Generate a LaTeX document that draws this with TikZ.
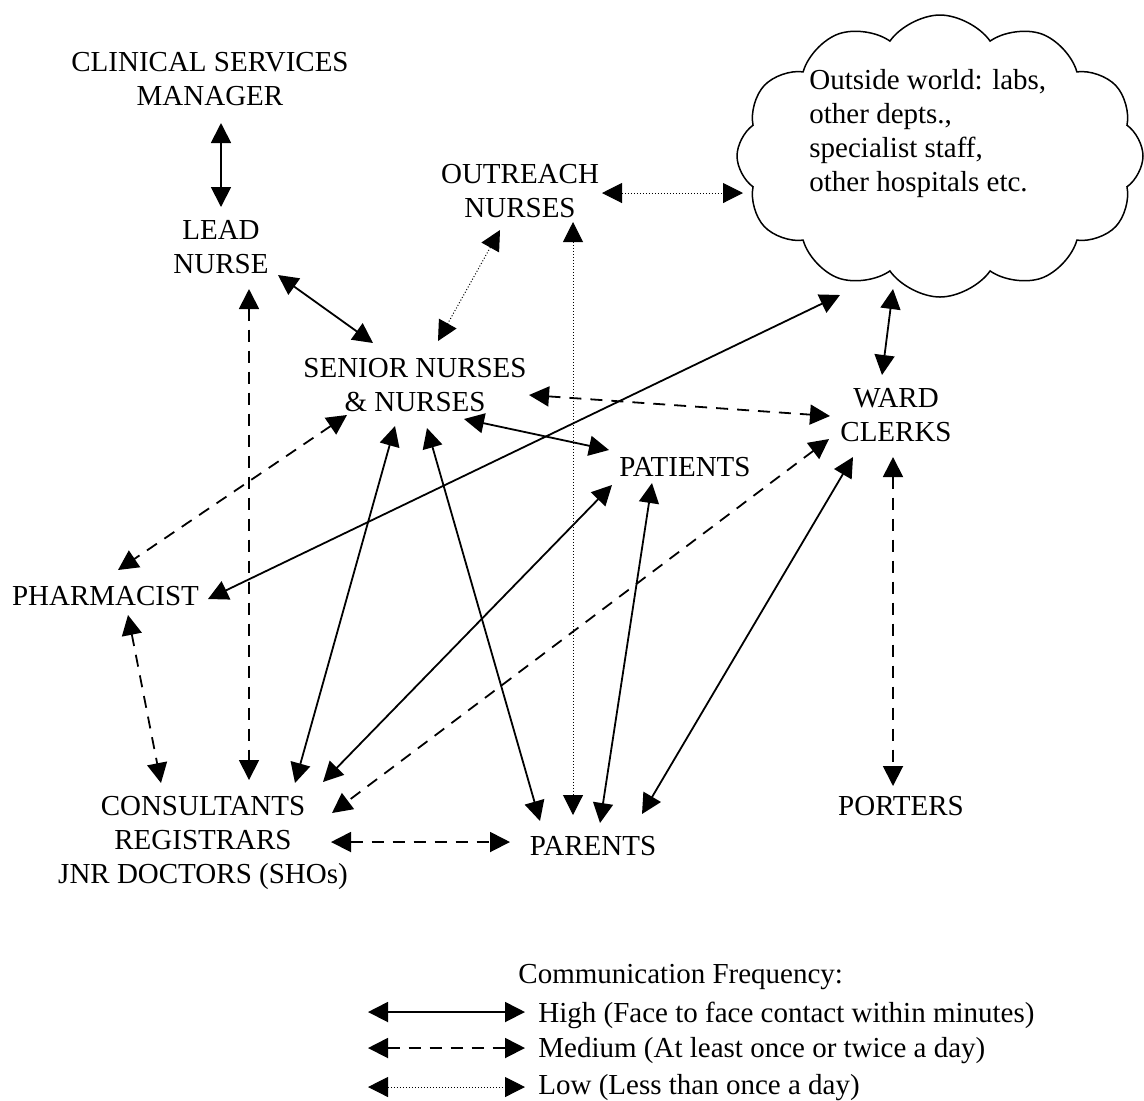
\documentclass[tikz,border=0pt]{standalone}
\usepackage{fontspec}
\setmainfont{Liberation Serif}
\usetikzlibrary{arrows.meta,calc,shapes.symbols}

\begin{document}
\begin{tikzpicture}[
  x=0.5pt, y=-0.5pt,
  >={Triangle[length=10pt,width=10pt]},
  every node/.style={align=center, inner sep=0pt, font=\fontsize{14.5}{17}\selectfont},
  high/.style={<->, line width=0.9pt},
  medium/.style={<->, line width=0.9pt, dash pattern=on 6pt off 4.5pt},
  low/.style={<->, line width=0.5pt, dash pattern=on 0.5pt off 1pt},
  world/.style={cloud, draw, line width=0.75pt, cloud puffs=12, cloud puff arc=110,
    aspect=1.45, minimum width=203pt, minimum height=141pt}
]
\useasboundingbox (0,0) rectangle (1144,1100);

% staff and family
\node (csm) at (210,79.5) {CLINICAL SERVICES\\MANAGER};
\node (lead) at (221,247) {LEAD\\NURSE};
\node (outreach) at (520,191) {OUTREACH\\NURSES};
\node (senior) at (415,385) {SENIOR NURSES\\\& NURSES};
\node (ward) at (896,415.5) {WARD\\CLERKS};
\node (patients) at (685,467) {PATIENTS};
\node (pharm) at (105.5,596.5) {PHARMACIST};
\node (cons) at (203,843) {CONSULTANTS\\REGISTRARS\\JNR DOCTORS (SHOs)};
\node (parents) at (593,846.5) {PARENTS};
\node (porters) at (901,806.5) {PORTERS};

% outside world
\node[world] (outside) at (940,156) {};
\node[anchor=north west, align=left] (outsidetext) at (809,69)
  {Outside world: labs,\\other depts.,\\specialist staff,\\other hospitals etc.};

% links
\draw[high] ($(csm)+(11,43.5)$) -- ($(lead)+(0,-40)$);
\draw[high] ($(lead)+(57,28)$) -- ($(senior)+(-42,-42)$);
\draw[low] ($(outreach)+(-20,39)$) -- ($(senior)+(23,-44)$);
\draw[low] ($(outreach)+(82,2)$) -- ($(outside)+(-197,37)$);
\draw[medium] ($(lead)+(28,42)$) -- ($(cons)+(46,-63)$);
\draw[low] ($(outreach)+(53,31)$) -- ($(parents)+(-20,-31.5)$);
\draw[medium] ($(senior)+(114,10)$) -- ($(ward)+(-66,0.5)$);
\draw[high] ($(senior)+(49,34)$) -- ($(patients)+(-76,-17)$);
\draw[high] ($(pharm)+(102.5,2.5)$) -- ($(outside)+(-100,139)$);
\draw[high] ($(outside)+(-47,133)$) -- ($(ward)+(-14,-40.5)$);
\draw[medium] ($(senior)+(-68,30)$) -- ($(pharm)+(12.5,-26.5)$);
\draw[medium] ($(pharm)+(22.5,18.5)$) -- ($(cons)+(-42,-60)$);
\draw[high] ($(senior)+(-20,41)$) -- ($(cons)+(92,-60)$);
\draw[high] ($(senior)+(12,43)$) -- ($(parents)+(-53,-25.5)$);
\draw[high] ($(patients)+(-73,18)$) -- ($(cons)+(120,-61)$);
\draw[high] ($(patients)+(-33,16)$) -- ($(parents)+(7,-23.5)$);
\draw[medium] ($(ward)+(-67,23.5)$) -- ($(cons)+(129,-30)$);
\draw[high] ($(ward)+(-43,41.5)$) -- ($(parents)+(49,-32.5)$);
\draw[medium] ($(ward)+(-3,41.5)$) -- ($(porters)+(-8,-20.5)$);
\draw[medium] ($(cons)+(128,-1)$) -- ($(parents)+(-83,-4.5)$);

% legend
\node[anchor=base west] (legtitle) at (518,983) {Communication Frequency:};
\node[anchor=west] (leghigh) at (538,1015) {High (Face to face contact within minutes)};
\node[anchor=west] (legmed) at (538,1051) {Medium (At least once or twice a day)};
\node[anchor=west] (leglow) at (538,1088) {Low (Less than once a day)};
\draw[high] ($(leghigh.west)+(-170,-3)$) -- ($(leghigh.west)+(-13,-3)$);
\draw[medium] ($(legmed.west)+(-170,-3)$) -- ($(legmed.west)+(-13,-3)$);
\draw[low] ($(leglow.west)+(-170,-1)$) -- ($(leglow.west)+(-13,-1)$);
\end{tikzpicture}
\end{document}
